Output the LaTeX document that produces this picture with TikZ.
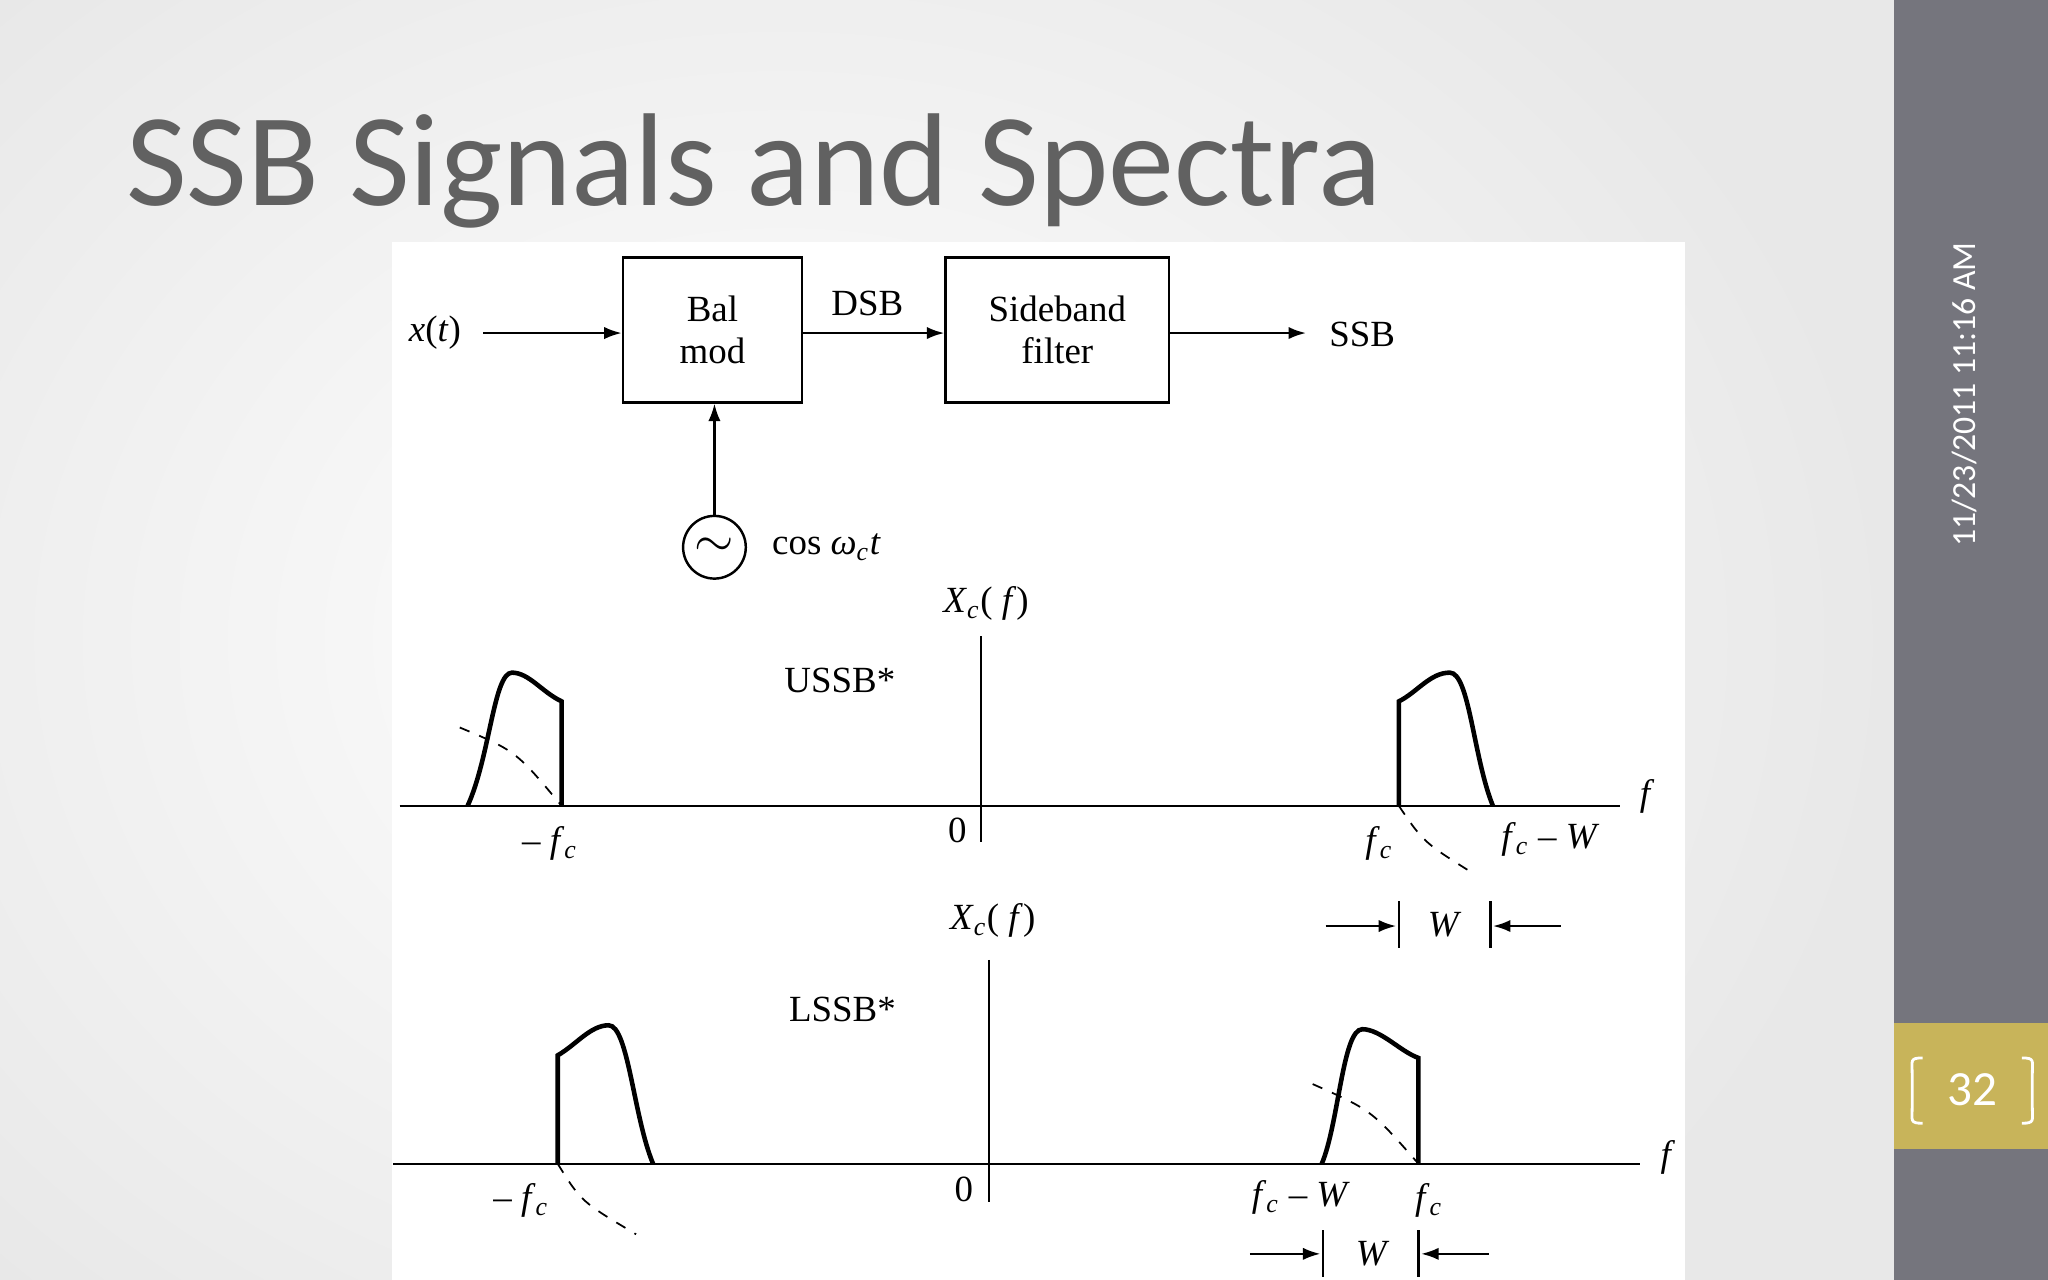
\documentclass[tikz,border=0pt]{standalone}
\usepackage{fontspec}
\setmainfont{Liberation Serif}
\newfontfamily\calib{Carlito}
\usetikzlibrary{arrows.meta}
\tikzset{
 blk/.style={draw,line width=0.7pt,font=\fontsize{10.5}{12}\selectfont,align=center,inner sep=0},
 lbl/.style={font=\fontsize{10.5}{12}\selectfont,inner sep=1pt},
 arr/.style={-{Latex[length=5pt,width=3.5pt]},line width=0.7pt},
 ax/.style={line width=0.7pt},
 spec/.style={line width=1.3pt},
 dsh/.style={dashed,line width=0.5pt},
}
\begin{document}
\begin{tikzpicture}[x=0.013061cm,y=-0.013061cm]
\useasboundingbox (0,0) rectangle (1568,980);
\shade[inner color=white,outer color=black!9] (-250,-200) rectangle (1450,1180);
\fill[white] (300,185) rectangle (1290,980);
\fill[black!60!blue!8!gray] (1450,0) rectangle (1568,980);
\fill[color={rgb,255:red,200;green,180;blue,90}] (1450,783) rectangle (1568,880);
\node[font=\calib\fontsize{37.6}{40}\selectfont,text=black!62,anchor=base west,inner sep=0] (title) at (96,157) {SSB Signals and Spectra};
\node[font=\calib\fontsize{9.6}{10}\selectfont,text=white,rotate=90] (date) at (1504,302) {11/23/2011 11:16 AM};
\node[font=\calib\fontsize{14}{15}\selectfont,text=white] (pg) at (1510,834) {32};
\draw[white,line width=0.8pt] (1472,810) .. controls (1462,810) and (1464,812) .. (1464,822) -- (1464,848) .. controls (1464,858) and (1462,860) .. (1472,860);
\draw[white,line width=0.8pt] (1548,810) .. controls (1558,810) and (1556,812) .. (1556,822) -- (1556,848) .. controls (1556,858) and (1558,860) .. (1548,860);
% block diagram
\node[blk,minimum width=137*0.013061cm,minimum height=111*0.013061cm] (bal) at (545.5,252.5) {Bal\\mod};
\node[blk,minimum width=171*0.013061cm,minimum height=111*0.013061cm] (sbf) at (809.5,252.5) {Sideband\\filter};
\node[lbl] (x) at (333,255) {\textit{x}(\textit{t})};
\node[lbl] (dsb) at (664,232) {DSB};
\node[lbl] (ssb) at (1043,256) {SSB};
\node[draw,circle,line width=0.7pt,minimum size=48*0.013061cm,inner sep=0,font=\fontsize{14}{14}\selectfont] (osc) at (547,419) {$\sim$};
\node[lbl,anchor=west] (cos) at (588,419) {cos \textit{ω}\textsubscript{\textit{c}}\textit{t}};
\coordinate (xe) at (370,255);
\coordinate (se) at (1000,255);
\draw[arr] (xe) -- (bal.west|-xe);
\draw[arr] (bal.east|-xe) -- (sbf.west|-xe);
\draw[arr] (sbf.east|-xe) -- (se);
\draw[arr] (osc.north) -- (osc.north|-bal.south);
% upper spectrum
\coordinate (a1l) at (306,617); \coordinate (a1r) at (1240,617);
\coordinate (v1t) at (751,487); \coordinate (v1b) at (751,645);
\draw[ax] (a1l) -- (a1r); \draw[ax] (v1t) -- (v1b);
\node[lbl] (f1) at (1261,610) {\textit{f}};
\node[lbl] (xc1) at (755,462) {\textit{X}\textsubscript{\textit{c}}( \textit{f})};
\node[lbl] (us) at (643,521) {USSB*};
\node[lbl] (z1) at (733,636) {0};
\node[lbl] (mf1) at (421,646) {– \textit{f}\textsubscript{\textit{c}}};
\node[lbl] (fc1) at (1056,646) {\textit{f}\textsubscript{\textit{c}}};
\node[lbl] (fw1) at (1187,643) {\textit{f}\textsubscript{\textit{c}} – \textit{W}};
\draw[spec] (358,617) .. controls (375,580) and (378,515) .. (392,515) .. controls (405,515) and (415,530) .. (430,537) -- (430,617);
\draw[spec] (1071,617) -- (1071,537) .. controls (1085,530) and (1095,515) .. (1110,515) .. controls (1125,515) and (1128,580) .. (1143,617);
\draw[dsh] (352,557) .. controls (395,575) .. (430,617);
\draw[dsh] (1071,617) .. controls (1090,645) .. (1130,670);
\node[lbl] (w1) at (1106,708) {\textit{W}};
\coordinate (w1a) at (1015,709); \coordinate (w1b) at (1069,709);
\coordinate (w1c) at (1195,709); \coordinate (w1d) at (1143,709);
\draw[arr] (w1a) -- (w1b); \draw[arr] (w1c) -- (w1d);
\draw[ax] (1071,690) -- (1071,726); \draw[ax] (1141,690) -- (1141,726);
% lower spectrum
\coordinate (a2l) at (301,891); \coordinate (a2r) at (1256,891);
\coordinate (v2t) at (757,735); \coordinate (v2b) at (757,920);
\draw[ax] (a2l) -- (a2r); \draw[ax] (v2t) -- (v2b);
\node[lbl] (f2) at (1277,886) {\textit{f}};
\node[lbl] (xc2) at (760,705) {\textit{X}\textsubscript{\textit{c}}( \textit{f})};
\node[lbl] (ls) at (645,773) {LSSB*};
\node[lbl] (z2) at (738,911) {0};
\node[lbl] (mf2) at (399,919) {– \textit{f}\textsubscript{\textit{c}}};
\node[lbl] (fw2) at (996,917) {\textit{f}\textsubscript{\textit{c}} – \textit{W}};
\node[lbl] (fc2) at (1094,919) {\textit{f}\textsubscript{\textit{c}}};
\draw[spec] (427,891) -- (427,808) .. controls (441,800) and (452,785) .. (466,785) .. controls (481,785) and (485,855) .. (500,891);
\draw[spec] (1012,891) .. controls (1025,860) and (1028,788) .. (1043,788) .. controls (1057,788) and (1072,805) .. (1086,810) -- (1086,891);
\draw[dsh] (427,891) .. controls (445,920) .. (487,945);
\draw[dsh] (1005,830) .. controls (1050,850) .. (1086,891);
\node[lbl] (w2) at (1051,960) {\textit{W}};
\coordinate (w2a) at (957,960); \coordinate (w2b) at (1011,960);
\coordinate (w2c) at (1140,960); \coordinate (w2d) at (1088,960);
\draw[arr] (w2a) -- (w2b); \draw[arr] (w2c) -- (w2d);
\draw[ax] (1013,942) -- (1013,978); \draw[ax] (1086,942) -- (1086,978);
\end{tikzpicture}
\end{document}
